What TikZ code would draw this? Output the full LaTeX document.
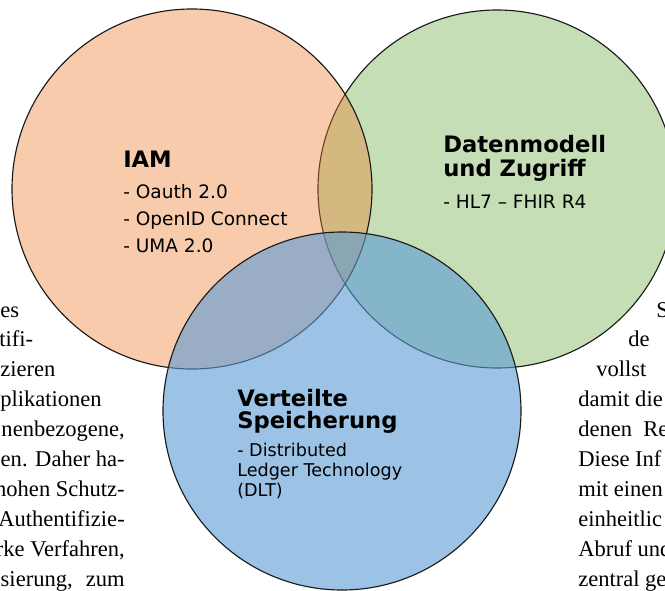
\documentclass[tikz,border=0pt]{standalone}
\usepackage{fontspec}
\setmainfont{Liberation Serif}
\newfontfamily\vfont{DejaVu Sans}
\definecolor{orangeC}{HTML}{ED7D31}
\definecolor{greenC}{HTML}{70AD47}
\definecolor{blueC}{HTML}{5B9BD5}
\definecolor{outl}{HTML}{1A1A1A}
\tikzset{
  venn/.style={draw=outl, line width=0.85pt},
  head/.style={font=\vfont\bfseries\fontsize{17}{17}\selectfont, inner sep=0pt, anchor=base west},
  item/.style={font=\vfont\fontsize{13.9}{16}\selectfont, inner sep=0pt, anchor=base west},
  itemb/.style={font=\vfont\fontsize{13.2}{15}\selectfont, inner sep=0pt, anchor=base west},
  sidel/.style={font=\fontsize{16.9}{20}\selectfont, inner sep=0pt, anchor=base east},
  sidew/.style={font=\fontsize{16.9}{20}\selectfont, inner sep=0pt, anchor=base west},
}
\newcommand{\jl}[1]{\makebox[93pt][s]{#1}}
\begin{document}
\begin{tikzpicture}[x=0.75pt,y=-0.75pt]
\useasboundingbox (0,0) rectangle (665,590);
\begin{scope}
\clip (0,0) rectangle (665,590);
\fill[white] (0,0) rectangle (665,590);
% circles: green, orange, blue (blue on top)
\filldraw[venn, fill=greenC, fill opacity=0.4] (497,189) circle[radius=179];
\filldraw[venn, fill=orangeC, fill opacity=0.4] (192,189) circle[radius=180];
\filldraw[venn, fill=blueC, fill opacity=0.6] (342,411) circle[radius=179];

% IAM
\node[head] (iam) at (123,167) {IAM};
\node[item] (iam1) at (123,198) {- Oauth 2.0};
\node[item] (iam2) at (123,225) {- OpenID Connect};
\node[item] (iam3) at (123,252) {- UMA 2.0};

% Datenmodell
\node[head] (dm1) at (443,152) {Datenmodell};
\node[head] (dm2) at (443,176) {und Zugriff};
\node[item] (dm3) at (443,208) {- HL7 – FHIR R4};

% Verteilte Speicherung
\node[head] (vs1) at (237,406) {Verteilte};
\node[head] (vs2) at (237,428) {Speicherung};
\node[itemb] (vs3) at (237,456) {- Distributed};
\node[itemb] (vs4) at (237,476) {Ledger Technology};
\node[itemb] (vs5) at (237,496) {(DLT)};

% left text fragments
\node[sidew] (l1) at (0,317) {es};
\node[sidew] (l2) at (-1,346.9) {tifi-};
\node[sidew] (l3) at (0,376.8) {zieren};
\node[sidew] (l4) at (0,406.7) {plikationen};
\node[sidel] (l5) at (125,436.6) {nenbezogene,};
\node[sidel] (l6) at (125,466.5) {\jl{en. Daher ha-}};
\node[sidel] (l7) at (125,496.4) {hohen Schutz-};
\node[sidel] (l8) at (125,526.3) {Authentifizie-};
\node[sidel] (l9) at (125,556.2) {rke Verfahren,};
\node[sidel] (l10) at (125,586.1) {\jl{sierung, zum}};

% right text fragments
\node[sidew] (r1) at (656,317) {S};
\node[sidew] (r2) at (628,346.9) {de};
\node[sidew] (r3) at (596,376.8) {vollst};
\node[sidew] (r4) at (578,406.7) {damit die};
\node[sidew] (r5) at (578,436.6) {denen\ \ Re};
\node[sidew] (r6) at (578,466.5) {Diese Inf};
\node[sidew] (r7) at (578,496.4) {mit einen};
\node[sidew] (r8) at (578,526.3) {einheitlic};
\node[sidew] (r9) at (578,556.2) {Abruf und};
\node[sidew] (r10) at (578,586.1) {zentral ge};
\end{scope}
\end{tikzpicture}
\end{document}
